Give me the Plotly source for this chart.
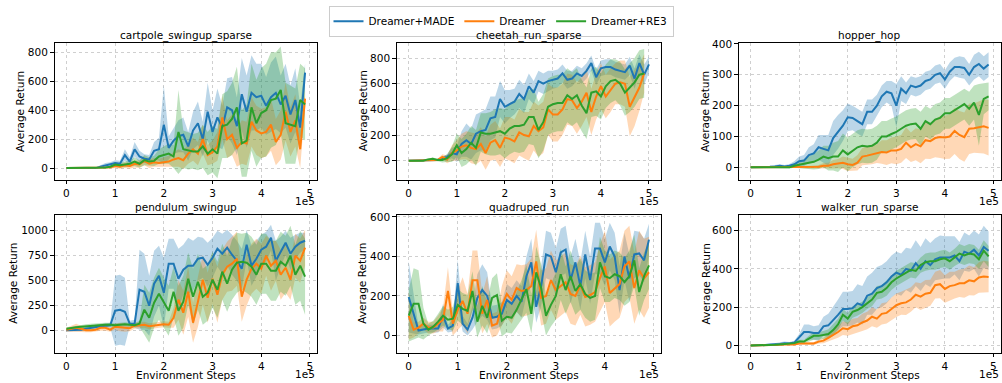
import plotly.graph_objects as go

W, H = 1002, 383

# ---------------- data ----------------
steps = [i * 10000 for i in range(50)]
steps51 = [i * 10000 for i in range(51)]

series_names = ["Dreamer+MADE", "Dreamer", "Dreamer+RE3"]
colors = ["#1f77b4", "#ff7f0e", "#2ca02c"]
fills = ["rgba(31,119,180,0.3)", "rgba(255,127,14,0.3)", "rgba(44,160,44,0.3)"]

# cartpole_swingup_sparse
cart_made = [0,0,0,0,0,0,0,10,20,25, 35,30,90,45,130,80,65,60,120,130, 300,140,190,220,230,150,260,310,200,390, 250,350,280,420,400,290,510,390,520,490, 500,430,490,520,440,500,370,470,280,660]
cart_made_sd = [0,0,0,0,0,5,5,10,15,15, 20,20,40,30,50,40,30,30,60,80, 270,80,90,110,120,100,130,150,120,200, 150,200,150,200,230,200,250,250,260,230, 220,200,240,250,200,220,200,220,150,60]
cart_dr = [0,0,0,0,0,0,0,0,0,5, 15,10,20,15,30,25,50,30,40,35, 40,45,60,70,55,100,130,100,200,90, 110,150,350,200,230,140,180,170,320,260, 240,250,300,180,230,390,250,330,130,480]
cart_dr_sd = [0,0,0,0,0,0,0,5,5,10, 15,15,20,20,25,25,30,30,30,30, 35,40,50,60,60,70,80,80,100,70, 80,100,150,130,140,130,150,150,170,170, 170,170,180,160,170,200,170,180,130,60]
cart_re3 = [0,0,0,0,0,0,0,0,5,10, 25,20,25,30,45,30,55,45,50,80, 90,100,80,250,130,120,115,115,150,100, 130,100,290,300,340,420,170,190,420,310, 380,400,470,480,540,310,300,290,470,440]
cart_re3_sd = [0,0,0,0,0,0,0,5,5,10, 15,15,20,20,30,25,35,30,35,50, 60,70,80,290,130,130,120,130,150,150, 160,170,220,230,250,280,230,250,300,300, 310,320,330,320,300,280,270,260,250,250]

# cheetah_run_sparse
chee_made = [0,0,0,0,5,5,5,20,30,60, 50,130,160,130,210,230,240,330,340,480, 420,440,460,520,480,580,530,620,600,620, 630,640,680,630,640,680,660,700,760,650, 720,730,730,710,700,690,740,640,760,670, 750]
chee_made_sd = [0,0,0,0,5,5,5,10,20,40, 60,100,130,120,150,150,160,170,160,140, 130,110,100,110,110,100,90,80,80,80, 70,70,70,70,60,60,60,60,60,60, 60,60,60,60,60,60,70,80,70,80, 60]
chee_dr = [0,0,0,0,0,0,5,30,10,60, 80,110,120,100,90,130,60,140,160,100, 180,170,150,220,200,190,270,230,260,400, 360,360,400,480,470,410,460,530,380,500, 580,500,550,600,610,600,420,490,570,680]
chee_dr_sd = [0,0,0,0,0,5,10,20,30,60, 80,100,110,120,120,130,130,140,150,150, 160,170,170,180,180,190,190,200,200,200, 210,210,200,200,200,200,190,190,180,180, 180,170,170,160,170,180,230,220,180,150]
chee_re3 = [0,0,0,0,10,15,5,5,20,50, 120,60,90,140,100,220,210,210,220,230, 210,250,270,270,280,340,340,240,300,420, 440,450,450,510,480,510,430,370,530,540, 500,580,620,630,600,530,570,610,670,680]
chee_re3_sd = [0,0,0,0,5,10,10,20,30,60, 90,110,120,130,140,150,160,170,180,180, 190,200,200,210,210,210,220,220,220,220, 220,220,220,210,210,210,200,200,190,190, 180,170,170,160,170,180,190,190,190,190]

# hopper_hop
hop_made = [0,0,0,0,2,3,5,3,5,10, 20,22,40,45,65,60,55,95,115,135, 162,160,150,140,180,180,200,230,245,240, 200,255,240,265,260,265,280,285,300,305, 285,310,325,325,322,300,325,335,320,333]
hop_made_sd = [0,0,0,2,3,4,5,5,6,10, 15,18,25,30,40,45,50,55,55,50, 45,40,40,40,40,40,35,35,35,40, 70,40,35,30,30,30,30,30,30,30, 30,30,30,35,35,35,40,40,40,40]
hop_dr = [0,0,0,0,0,0,0,0,0,0, 0,0,0,0,2,5,5,10,12,15, 10,8,15,35,38,42,44,50,48,55, 55,60,80,65,75,68,88,85,95,98, 97,100,118,105,98,125,127,130,133,128]
hop_dr_sd = [0,0,0,0,0,0,0,0,0,0, 2,3,4,5,6,9,10,14,15,20, 22,20,25,28,30,32,30,38,40,42, 45,45,50,48,52,55,60,58,62,68, 70,72,75,78,80,82,80,85,88,90]
hop_re3 = [0,0,0,0,0,0,0,0,0,5, 8,12,15,18,25,35,30,35,35,55, 42,55,65,70,68,70,80,100,100,108, 115,125,135,140,142,125,150,140,155,160, 175,175,185,195,205,190,210,170,222,230]
hop_re3_sd = [0,0,0,0,1,2,2,3,4,6, 10,15,20,25,30,35,40,45,50,55, 55,55,55,55,55,55,55,50,50,50, 50,50,50,50,50,55,50,50,50,50, 50,50,50,50,50,55,55,100,50,45]

# pendulum_swingup
pend_made = [5,5,5,10,20,30,40,45,50,55, 200,210,190,70,70,410,390,250,470,550, 380,670,670,520,610,650,650,720,730,660, 730,820,770,830,760,700,620,860,650,720, 810,840,930,700,790,880,770,840,880,900]
pend_made_sd = [10,10,10,15,20,20,20,20,20,25, 350,350,340,30,40,400,380,300,330,300, 350,250,250,300,250,280,250,220,200,220, 200,180,200,180,200,200,200,150,200,180, 150,150,130,200,150,120,160,120,100,80]
pend_dr = [10,20,30,20,5,5,10,30,30,10, 40,35,30,25,50,55,60,45,50,60, 65,60,130,310,180,390,80,290,510,330, 520,360,560,640,670,720,340,510,620,670, 620,750,650,700,560,630,510,750,700,830]
pend_dr_sd = [20,30,40,30,20,20,20,30,30,20, 30,40,40,30,30,30,30,30,30,30, 30,30,100,200,220,250,200,250,250,250, 250,280,250,250,270,270,250,260,250,250, 250,200,250,200,250,250,200,220,220,180]
pend_re3 = [20,30,35,40,45,50,55,55,60,60, 55,60,65,60,55,70,210,130,280,370, 280,200,390,200,290,520,340,490,340,380, 510,410,590,470,610,680,690,680,640,560, 670,670,600,600,690,650,750,560,650,540]
pend_re3_sd = [10,10,15,20,20,20,20,20,20,20, 20,20,20,20,20,30,250,250,250,260, 250,250,250,250,260,260,280,280,280,280, 280,280,280,280,300,300,280,300,300,300, 300,300,300,300,300,300,300,300,350,380]

# quadruped_run
quad_made = [195,110,25,30,35,35,35,100,35,50, 265,60,30,90,190,230,200,90,95,110, 180,160,200,170,300,370,145,250,410,400, 320,420,435,280,370,250,410,280,440,440, 370,450,400,230,400,290,410,415,380,485]
quad_made_sd = [180,100,20,20,20,20,20,60,20,30, 120,40,30,60,120,130,120,60,60,60, 80,80,80,80,100,120,80,100,120,120, 120,120,120,120,120,120,120,120,130,130, 120,120,120,120,120,120,120,110,110,80]
quad_dr = [100,30,40,60,40,40,60,80,225,60, 130,175,110,280,280,110,180,50,60,150, 210,180,240,225,230,250,375,190,200,280, 230,250,270,210,200,255,195,205,220,290, 350,215,240,260,350,375,240,330,290,320]
quad_dr_sd = [120,40,30,30,30,30,40,60,120,60, 100,120,100,150,150,100,120,60,60,100, 120,120,120,130,130,140,160,140,140,150, 150,150,150,150,150,150,150,150,150,170, 180,170,170,170,180,180,180,200,200,180]
quad_re3 = [100,160,160,60,30,45,70,100,80,85, 155,135,125,225,70,150,90,190,205,75, 95,90,130,180,235,110,320,240,100,155, 200,310,230,300,225,260,210,190,200,370, 300,290,310,300,270,300,380,220,300,355]
quad_re3_sd = [130,180,170,80,30,30,40,50,50,60, 80,80,80,100,80,100,80,100,110,80, 80,80,90,100,120,100,130,120,100,110, 120,130,120,130,120,130,120,120,120,130, 130,120,120,120,120,130,130,120,120,120]

# walker_run_sparse
walk_made = [0,0,0,2,5,5,8,12,10,15, 40,70,70,65,65,100,105,130,160,190, 190,195,220,210,260,270,300,310,330,360, 380,370,400,390,430,400,440,420,450,460, 460,460,470,440,490,480,500,470,515,495]
walk_made_sd = [0,0,0,2,3,5,6,8,8,10, 20,40,40,35,40,50,60,70,80,90, 90,90,100,100,100,110,110,110,110,110, 110,110,110,115,120,115,120,115,110,115, 110,110,100,100,100,95,100,110,110,100]
walk_dr = [0,0,0,0,2,2,3,5,5,5, 10,10,10,10,20,25,40,55,70,90, 85,100,105,120,130,150,140,165,170,190, 210,220,225,240,265,255,270,275,315,320, 295,310,315,325,325,340,335,355,360,358]
walk_dr_sd = [0,0,0,0,1,2,2,3,3,4, 5,6,7,8,10,14,20,24,30,36, 35,40,38,45,46,50,48,55,56,60, 62,60,66,64,65,70,72,68,70,74, 72,75,70,72,76,78,74,80,82,80]
walk_re3 = [0,0,0,2,2,3,5,8,10,12, 20,20,35,50,50,55,60,80,110,160, 140,175,185,200,220,240,275,280,300,330, 350,365,380,395,390,420,435,440,440,450, 455,440,460,480,470,480,475,450,495,465]
walk_re3_sd = [0,0,0,1,2,2,3,4,5,6, 10,10,15,20,20,20,25,30,30,30, 30,30,30,30,30,35,35,35,40,40, 40,40,40,40,40,40,45,45,45,45, 45,45,45,50,50,50,50,50,55,55]

x_tick_vals = [0, 100000, 200000, 300000, 400000, 500000]
x_tick_text = ["0", "1", "2", "3", "4", "5"]

panels = [
    dict(title="cartpole_swingup_sparse",
         data=[(steps, cart_made, cart_made_sd), (steps, cart_dr, cart_dr_sd), (steps, cart_re3, cart_re3_sd)],
         yticks=[0, 200, 400, 600, 800]),
    dict(title="cheetah_run_sparse",
         data=[(steps51, chee_made, chee_made_sd), (steps, chee_dr, chee_dr_sd), (steps, chee_re3, chee_re3_sd)],
         yticks=[0, 200, 400, 600, 800]),
    dict(title="hopper_hop",
         data=[(steps, hop_made, hop_made_sd), (steps, hop_dr, hop_dr_sd), (steps, hop_re3, hop_re3_sd)],
         yticks=[0, 100, 200, 300, 400]),
    dict(title="pendulum_swingup",
         data=[(steps, pend_made, pend_made_sd), (steps, pend_dr, pend_dr_sd), (steps, pend_re3, pend_re3_sd)],
         yticks=[0, 250, 500, 750, 1000]),
    dict(title="quadruped_run",
         data=[(steps, quad_made, quad_made_sd), (steps, quad_dr, quad_dr_sd), (steps, quad_re3, quad_re3_sd)],
         yticks=[0, 200, 400, 600]),
    dict(title="walker_run_sparse",
         data=[(steps, walk_made, walk_made_sd), (steps, walk_dr, walk_dr_sd), (steps, walk_re3, walk_re3_sd)],
         yticks=[0, 200, 400, 600]),
]

# ---------------- layout geometry (pixels) ----------------
col_px = [(54.5, 317.0), (396.7, 661.0), (738.7, 1000.5)]
row_px = [(38.5, 177.0), (212.7, 352.3)]
x_ranges = [[-24500, 514500], [-25000, 525000], [-24500, 514500],
            [-24500, 514500], [-24500, 514500], [-24500, 514500]]
y_ranges = [[-80, 864], [-148, 917], [-40, 403], [-220, 1158], [-87, 610], [-38, 682]]
ylabel_x = [20.7, 363, 705.7, 13, 362, 705.7]

FONT = "DejaVu Sans"
FS = 10.5


def fx(px):
    return px / W


def fy(py):
    return 1 - py / H


fig = go.Figure()
annotations = []
layout = {}

for i, p in enumerate(panels):
    r, c = divmod(i, 3)
    n = i + 1
    xa = "xaxis" if n == 1 else f"xaxis{n}"
    ya = "yaxis" if n == 1 else f"yaxis{n}"
    xref = "x" if n == 1 else f"x{n}"
    yref = "y" if n == 1 else f"y{n}"
    x0, x1 = col_px[c]
    y0, y1 = row_px[r]
    common = dict(showline=True, linecolor="black", linewidth=1, mirror=True,
                  ticks="outside", ticklen=3.5, tickwidth=1, tickcolor="black",
                  showgrid=True, gridcolor="#cfcfcf", griddash="dot", gridwidth=1,
                  zeroline=False, tickfont=dict(family=FONT, size=FS, color="black"))
    layout[xa] = dict(domain=[fx(x0), fx(x1)], anchor=yref, range=x_ranges[i],
                      tickvals=x_tick_vals, ticktext=x_tick_text, **common)
    layout[ya] = dict(domain=[fy(y1), fy(y0)], anchor=xref, range=y_ranges[i],
                      tickvals=p["yticks"], **common)

    for k, (xs, ys, sd) in enumerate(p["data"]):
        lo = [m - s for m, s in zip(ys, sd)]
        hi = [m + s for m, s in zip(ys, sd)]
        fig.add_trace(go.Scatter(x=list(xs) + list(xs)[::-1], y=hi + lo[::-1],
                                 fill="toself", fillcolor=fills[k], line=dict(width=0),
                                 mode="lines", hoverinfo="skip", showlegend=False,
                                 xaxis=xref, yaxis=yref))
    for k, (xs, ys, sd) in enumerate(p["data"]):
        fig.add_trace(go.Scatter(x=xs, y=ys, mode="lines", name=series_names[k],
                                 line=dict(color=colors[k], width=2),
                                 showlegend=(i == 0), legendgroup=series_names[k],
                                 xaxis=xref, yaxis=yref))

    # title
    annotations.append(dict(text=p["title"], x=fx((x0 + x1) / 2), y=fy(y0 - 7.5),
                            xref="paper", yref="paper", showarrow=False,
                            xanchor="center", yanchor="middle",
                            font=dict(family=FONT, size=FS, color="black")))
    # y label
    annotations.append(dict(text="Average Return", x=fx(ylabel_x[i]), y=fy((y0 + y1) / 2),
                            xref="paper", yref="paper", showarrow=False, textangle=-90,
                            xanchor="center", yanchor="middle",
                            font=dict(family=FONT, size=FS, color="black")))
    # offset text
    annotations.append(dict(text="1e5", x=fx(x1), y=fy(y1 + 22),
                            xref="paper", yref="paper", showarrow=False,
                            xanchor="right", yanchor="middle",
                            font=dict(family=FONT, size=FS, color="black")))
    if r == 1:
        annotations.append(dict(text="Environment Steps", x=fx((x0 + x1) / 2), y=fy(375),
                                xref="paper", yref="paper", showarrow=False,
                                xanchor="center", yanchor="middle",
                                font=dict(family=FONT, size=FS, color="black")))

fig.update_layout(
    width=W, height=H,
    margin=dict(l=0, r=0, t=0, b=0),
    paper_bgcolor="white", plot_bgcolor="white",
    font=dict(family=FONT, size=FS, color="black"),
    legend=dict(orientation="h", x=0.5, xanchor="center", y=0.998, yanchor="top",
                bordercolor="#cccccc", borderwidth=1, bgcolor="white",
                font=dict(family=FONT, size=FS), itemwidth=30),
    annotations=annotations,
    **layout,
)

fig.write_html("out.html", config={"displayModeBar": False},
               post_script="document.body.style.margin='0px';document.body.style.padding='0px';")
